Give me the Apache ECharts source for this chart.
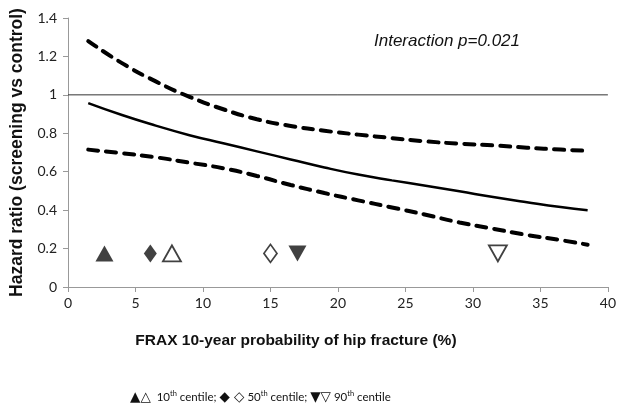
<!DOCTYPE html>
<html>
<head>
<meta charset="utf-8">
<script src="https://cdn.jsdelivr.net/npm/echarts@6/dist/echarts.min.js"></script>
<style>html,body{margin:0;padding:0;background:#fff}#c{width:619px;height:412px}</style>
</head>
<body>
<div id="c"></div>
<script>
var curveX = [1.5, 4, 6.5, 9, 11.5, 14, 16.5, 19, 21.5, 24, 26.5, 29, 31.5, 34, 36.5, 38.5];
var hrEstimate = [0.957, 0.895, 0.84, 0.79, 0.748, 0.706, 0.664, 0.622, 0.585, 0.555, 0.527, 0.498, 0.468, 0.441, 0.416, 0.40];
var upperCI = [1.28, 1.165, 1.07, 0.99, 0.925, 0.873, 0.838, 0.813, 0.793, 0.775, 0.758, 0.746, 0.737, 0.725, 0.715, 0.709];
var lowerCI = [0.715, 0.696, 0.675, 0.647, 0.618, 0.578, 0.531, 0.489, 0.451, 0.414, 0.376, 0.336, 0.303, 0.271, 0.244, 0.22];
var markerY = 0.175;
var c10Filled = 2.7, c10Open = 7.7;
var c50Filled = 6.1, c50Open = 15.0;
var c90Filled = 17.0, c90Open = 31.85;
var xTicks = [0, 5, 10, 15, 20, 25, 30, 35, 40];
var yTicks = [0, 0.2, 0.4, 0.6, 0.8, 1, 1.2, 1.4];

function pairs(xs, ys) { return xs.map(function (x, i) { return [x, ys[i]]; }); }

var chart = echarts.init(document.getElementById('c'), null, {renderer: 'canvas'});
var tickFont = 'Lato, "Open Sans", sans-serif';
function markerSeries(x, symbol, filled, rotate) {
  return {
    type: 'scatter', data: [[x, markerY]], symbol: symbol, symbolSize: symbol === 'diamond' ? [13, 18] : [18, 16],
    symbolRotate: rotate || 0,
    itemStyle: {color: filled ? '#111' : '#fff', borderColor: '#111', borderWidth: filled ? 0 : 1.8},
    z: 5, silent: true
  };
}
chart.setOption({
  animation: false,
  grid: {left: 68, right: 10, top: 18, bottom: 125, containLabel: false},
  xAxis: {
    type: 'value', min: 0, max: 40, interval: 5,
    name: 'FRAX 10-year probability of hip fracture (%)', nameLocation: 'middle', nameGap: 46,
    nameTextStyle: {fontFamily: 'Liberation Sans, Arial, sans-serif', fontWeight: 'bold', fontSize: 15.5, color: '#111', padding: [0, 84, 0, 0]},
    axisLine: {show: true, onZero: false, lineStyle: {color: '#999', width: 1}},
    axisTick: {show: true, inside: false, length: 5, lineStyle: {color: '#999'}},
    axisLabel: {fontFamily: tickFont, fontSize: 14, color: '#222', margin: 9,
      formatter: function (v) { return xTicks.indexOf(v) >= 0 ? String(v) : ''; }},
    splitLine: {show: false}
  },
  yAxis: {
    type: 'value', min: 0, max: 1.4, interval: 0.2,
    name: 'Hazard ratio (screening vs control)', nameLocation: 'middle', nameGap: 39,
    nameTextStyle: {fontFamily: 'Liberation Sans, Arial, sans-serif', fontWeight: 'bold', fontSize: 17.5, color: '#111'},
    axisLine: {show: true, lineStyle: {color: '#999', width: 1}},
    axisTick: {show: true, length: 5, lineStyle: {color: '#999'}},
    axisLabel: {fontFamily: tickFont, fontSize: 14, color: '#222', margin: 11,
      formatter: function (v) { var r = Math.round(v * 10) / 10; return yTicks.indexOf(r) >= 0 ? String(r) : ''; }},
    splitLine: {show: false}
  },
  series: [
    {type: 'line', data: [[0, 1], [40, 1]], symbol: 'none', lineStyle: {color: '#333', width: 1}, silent: true, z: 1},
    {type: 'line', data: pairs(curveX, hrEstimate), symbol: 'none', smooth: 0.5,
      lineStyle: {color: '#000', width: 2.5}, silent: true, z: 3},
    {type: 'line', data: pairs(curveX, upperCI), symbol: 'none', smooth: 0.5,
      lineStyle: {color: '#000', width: 4, type: [10, 8], cap: 'round'}, silent: true, z: 3},
    {type: 'line', data: pairs(curveX, lowerCI), symbol: 'none', smooth: 0.5,
      lineStyle: {color: '#000', width: 4, type: [10, 8], cap: 'round'}, silent: true, z: 3},
    markerSeries(c10Filled, 'triangle', true),
    markerSeries(c10Open, 'triangle', false),
    markerSeries(c50Filled, 'diamond', true),
    markerSeries(c50Open, 'diamond', false),
    markerSeries(c90Filled, 'triangle', true, 180),
    markerSeries(c90Open, 'triangle', false, 180)
  ],
  graphic: [
    {type: 'text', left: 374, top: 33, style: {text: 'Interaction p=0.021', font: 'italic 17px "Liberation Sans", Arial, sans-serif', fill: '#111'}},
    {type: 'text', left: 130, top: 390, style: {
      text: '{g|▲△}  10{s|th} centile; {g|◆ ◇} 50{s|th} centile; {g|▼▽} 90{s|th} centile',
      font: '11.5px Lato, "Open Sans", sans-serif', fill: '#111',
      rich: {
        s: {fontSize: 7.5, verticalAlign: 'top', padding: [0, 0, 6, 0], fontFamily: 'Lato, sans-serif'},
        g: {fontSize: 13.5, fontFamily: '"DejaVu Sans", sans-serif', fill: '#111'}
      }
    }}
  ]
});
</script>
</body>
</html>
